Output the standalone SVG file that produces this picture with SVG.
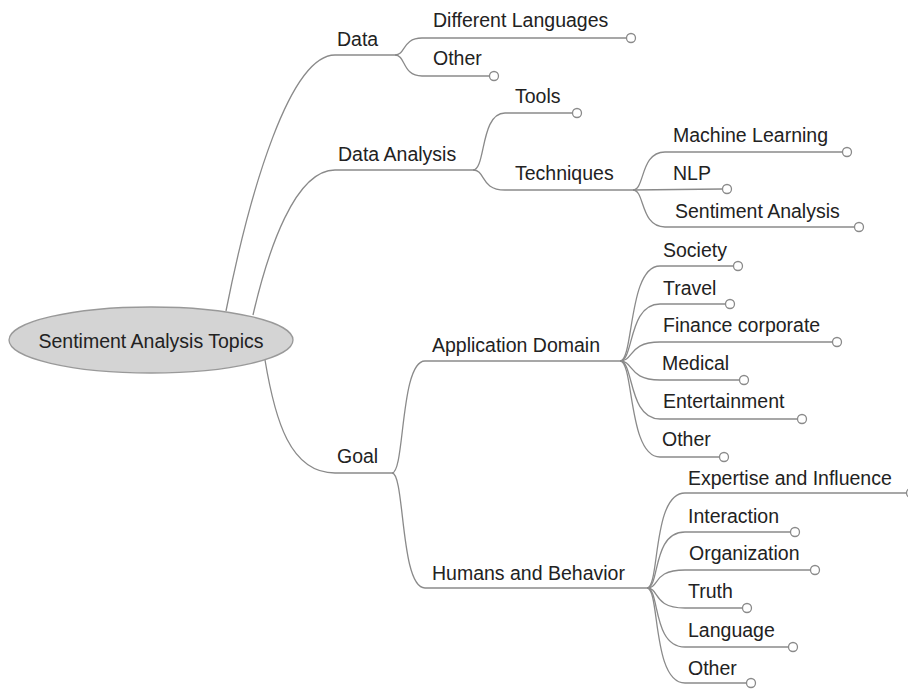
<svg xmlns="http://www.w3.org/2000/svg" width="908" height="689" viewBox="0 0 908 689">
<style>
text{font-family:"Liberation Sans",Arial,sans-serif;font-size:19.5px;fill:#222}
.c{fill:none;stroke:#8a8a8a;stroke-width:1.3}
.e{fill:#fff;stroke:#8a8a8a;stroke-width:1.3}
</style>
<rect width="908" height="689" fill="#fff"/>
<g id="connectors">
<path class="c" d="M226,311 C250,190 290,55 335,55 L395,55"/>
<path class="c" d="M253,315 C268,250 295,170 335,170 L473,170"/>
<path class="c" d="M265,360 C275,420 290,473 335,473 L392,473"/>
<path class="c" d="M395,55 C406,55 402,38 422,38 L626.5,38"/>
<path class="c" d="M395,55 C406,55 402,76 422,76 L489.5,76"/>
<path class="c" d="M473,170 C486,170 480,113 505,113 L572.5,113"/>
<path class="c" d="M473,170 C486,170 480,190 505,190 L633,190"/>
<path class="c" d="M633,190 C645,190 640,152 665,152 L842.5,152"/>
<path class="c" d="M633,190 L722.5,189"/>
<path class="c" d="M633,190 C645,190 640,227 665,227 L854.5,227"/>
<path class="c" d="M392,473 C405,473 400,361 425,361 L620,361"/>
<path class="c" d="M392,473 C405,473 400,588 425,588 L647,588"/>
<path class="c" d="M620,361 C634,361 628,266 660,266 L733.5,266"/>
<path class="c" d="M620,361 C634,361 628,304 660,304 L725.5,304"/>
<path class="c" d="M620,361 C634,361 628,342 660,342 L832.5,342"/>
<path class="c" d="M620,361 C634,361 628,380 660,380 L739.5,380"/>
<path class="c" d="M620,361 C634,361 628,419 660,419 L797.5,419"/>
<path class="c" d="M620,361 C634,361 628,457 660,457 L719.5,457"/>
<path class="c" d="M647,588 C660,588 652,493 685,493 L906.5,493"/>
<path class="c" d="M647,588 C660,588 652,532 685,532 L790.5,532"/>
<path class="c" d="M647,588 C660,588 652,570 685,570 L810.5,570"/>
<path class="c" d="M647,588 C660,588 652,608 685,608 L742.5,608"/>
<path class="c" d="M647,588 C660,588 652,647 685,647 L788.5,647"/>
<path class="c" d="M647,588 C660,588 652,683 685,683 L746.5,683"/>
</g>
<g id="root"><ellipse cx="151" cy="340" rx="142" ry="33" fill="#d4d4d4" stroke="#999" stroke-width="1.3"/><text x="151" y="348" text-anchor="middle">Sentiment Analysis Topics</text></g>
<g id="data"><text x="337" y="46">Data</text></g>
<g id="data-analysis"><text x="338" y="161">Data Analysis</text></g>
<g id="goal"><text x="337" y="463">Goal</text></g>
<g id="different-languages"><text x="433" y="27">Different Languages</text><circle class="e" cx="631" cy="38" r="4.5"/></g>
<g id="data-other"><text x="433" y="65">Other</text><circle class="e" cx="494" cy="76" r="4.5"/></g>
<g id="tools"><text x="515" y="103">Tools</text><circle class="e" cx="577" cy="113" r="4.5"/></g>
<g id="techniques"><text x="515" y="180">Techniques</text></g>
<g id="machine-learning"><text x="673" y="142">Machine Learning</text><circle class="e" cx="847" cy="152" r="4.5"/></g>
<g id="nlp"><text x="673" y="180">NLP</text><circle class="e" cx="727" cy="189" r="4.5"/></g>
<g id="sentiment-analysis"><text x="675" y="218">Sentiment Analysis</text><circle class="e" cx="859" cy="227" r="4.5"/></g>
<g id="application-domain"><text x="432" y="352">Application Domain</text></g>
<g id="humans-behavior"><text x="432" y="580">Humans and Behavior</text></g>
<g id="society"><text x="663" y="257">Society</text><circle class="e" cx="738" cy="266" r="4.5"/></g>
<g id="travel"><text x="663" y="295">Travel</text><circle class="e" cx="730" cy="304" r="4.5"/></g>
<g id="finance"><text x="663" y="332">Finance corporate</text><circle class="e" cx="837" cy="342" r="4.5"/></g>
<g id="medical"><text x="662" y="370">Medical</text><circle class="e" cx="744" cy="380" r="4.5"/></g>
<g id="entertainment"><text x="663" y="408">Entertainment</text><circle class="e" cx="802" cy="419" r="4.5"/></g>
<g id="app-other"><text x="662" y="446">Other</text><circle class="e" cx="724" cy="457" r="4.5"/></g>
<g id="expertise"><text x="688" y="485">Expertise and Influence</text><circle class="e" cx="911" cy="493" r="4.5"/></g>
<g id="interaction"><text x="688" y="523">Interaction</text><circle class="e" cx="795" cy="532" r="4.5"/></g>
<g id="organization"><text x="689" y="560">Organization</text><circle class="e" cx="815" cy="570" r="4.5"/></g>
<g id="truth"><text x="688" y="598">Truth</text><circle class="e" cx="747" cy="608" r="4.5"/></g>
<g id="language"><text x="688" y="637">Language</text><circle class="e" cx="793" cy="647" r="4.5"/></g>
<g id="hb-other"><text x="688" y="675">Other</text><circle class="e" cx="751" cy="683" r="4.5"/></g>
</svg>
